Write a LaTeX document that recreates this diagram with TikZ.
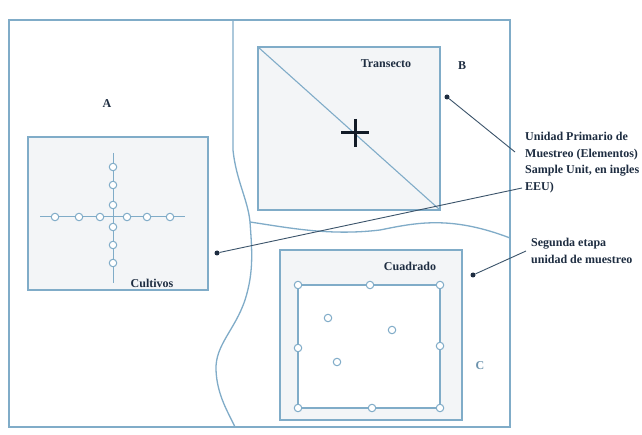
\documentclass[tikz,border=0pt]{standalone}
\usepackage{fontspec}
\setmainfont{Liberation Serif}
\usetikzlibrary{positioning}

\definecolor{lineblue}{RGB}{128,172,200}
\definecolor{inkblue}{RGB}{30,45,65}
\definecolor{boxgrey}{RGB}{243,245,247}

\tikzset{
    frame/.style={draw=lineblue,line width=1.3pt},
    boxfill/.style={frame,fill=boxgrey},
    plot/.style={draw=lineblue,line width=1pt,fill=white,minimum size=7.5pt,inner sep=0pt,circle},
    lbl/.style={font=\bfseries\fontsize{12}{16.5}\selectfont,text=inkblue,inner sep=0pt},
    dot/.style={circle,fill=inkblue,minimum size=5pt,inner sep=0pt},
    conn/.style={draw=inkblue!70!lineblue,line width=0.9pt}
}

\begin{document}
\begin{tikzpicture}[x=1pt,y=-1pt]
    \useasboundingbox[fill=white] (0,0) rectangle (642,435);

    % outer frame
    \draw[frame] (9,20) rectangle (510,427);

    % boundaries of the field
    \draw[frame] (233,20) -- (233,150) .. controls (236,180) and (248,200) .. (250,222)
        .. controls (252,250) and (254,272) .. (245,300)
        .. controls (235,330) and (215,345) .. (216,370)
        .. controls (217,395) and (228,412) .. (235,427);
    \draw[frame] (250,222) .. controls (290,228) and (330,236) .. (380,230)
        .. controls (415,223) and (450,215) .. (510,238);

    % A: Cultivos
    \draw[boxfill] (28,137) rectangle (208,290);
    \draw[draw=lineblue,line width=1pt] (40,217) -- (185,217);
    \draw[draw=lineblue,line width=1pt] (113,153) -- (113,283);
    \foreach \x in {55,79,100,127,147,170}
        \node[plot] at (\x,217) {};
    \foreach \y in {167,185,205,227,245,263}
        \node[plot] at (113,\y) {};
    \node[lbl] (labA) at (107,104) {A};
    \node[lbl] (cultivos) at (152,283) {Cultivos};

    % B: Transecto
    \draw[boxfill] (258,47) rectangle (440,210);
    \draw[draw=lineblue,line width=1.1pt] (258,47) -- (440,210);
    \draw[inkblue!60!black,line width=3pt] (341,133) -- (369,133);
    \draw[inkblue!60!black,line width=3pt] (355,119) -- (355,147);
    \node[lbl] (transecto) at (386,64) {Transecto};
    \node[lbl] (labB) at (462,66) {B};

    % C: Cuadrado
    \draw[boxfill] (280,250) rectangle (462,420);
    \draw[frame,fill=white] (298,285) rectangle (440,408);
    \foreach \p in {(298,285),(370,285),(440,285),(298,348),(440,346),(298,408),(372,408),(440,408),(328,318),(392,330),(337,362)}
        \node[plot] at \p {};
    \node[lbl] (cuadrado) at (410,266) {Cuadrado};
    \node[lbl,text=lineblue!80!inkblue] (labC) at (480,366) {C};

    % labels on the right
    \node[lbl,anchor=north west,align=left] (unidad) at (525,132)
        {Unidad Primario de\\Muestreo (Elementos)\\Sample Unit, en ingles\\EEU)};
    \node[lbl,anchor=north west,align=left] (segunda) at (531,238)
        {Segunda etapa\\unidad de muestreo};

    % pointers
    \node[dot] (dB) at (447,97) {};
    \node[dot] (dA) at (217,253) {};
    \node[dot] (dC) at (473,275) {};
    \coordinate (uTop) at (515,152);
    \coordinate (uLow) at (522,188);
    \coordinate (sLeft) at (526,251);
    \draw[conn] (uTop) -- (dB);
    \draw[conn] (uLow) -- (dA);
    \draw[conn] (sLeft) -- (dC);
\end{tikzpicture}
\end{document}
